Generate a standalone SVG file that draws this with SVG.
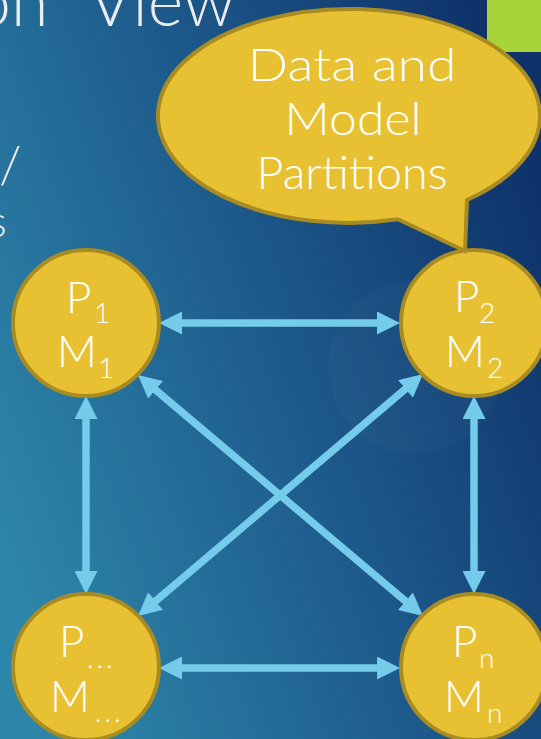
<svg xmlns="http://www.w3.org/2000/svg" width="541" height="739" viewBox="0 0 541 739">
  <defs>
    <linearGradient id="bg" x1="0" y1="0.75" x2="1" y2="0.25">
      <stop offset="0" stop-color="#2D86A9"/>
      <stop offset="0.5" stop-color="#1E5C8D"/>
      <stop offset="1" stop-color="#0E3269"/>
    </linearGradient>
    <marker id="ah" markerUnits="userSpaceOnUse" markerWidth="23" markerHeight="23" viewBox="0 0 23 23" refX="7" refY="11.5" orient="auto-start-reverse">
      <path d="M0,0 L23,11.5 L0,23 Z" fill="#74CCEA"/>
    </marker>
    <style>
      .node { fill: #E8C133; stroke: #A88B22; stroke-width: 4; }
      .lbl { font-family: "Lato", "DejaVu Sans", sans-serif; font-weight: 300; fill: #FFFFFF; font-size: 44px; }
      .sub { font-size: 28px; }
      .dots { font-size: 28px; letter-spacing: 3px; }
      .bigt { font-family: "Lato", "DejaVu Sans", sans-serif; font-weight: 300; fill: #ECECEC; }
      .bub { font-family: "Lato", "DejaVu Sans", sans-serif; font-weight: 300; fill: #FFFFFF; font-size: 45px; text-anchor: middle; }
      .conn { stroke: #74CCEA; stroke-width: 7.5; fill: none; marker-start: url(#ah); marker-end: url(#ah); }
    </style>
  </defs>

  <rect x="0" y="0" width="541" height="739" fill="url(#bg)"/>
  <circle cx="415" cy="367" r="87" fill="#FFFFFF" fill-opacity="0.025"/>
  <rect x="487" y="0" width="54" height="52" fill="#A9D33A"/>

  <g id="title-fragments">
    <text class="bigt" font-size="68" y="26"><tspan x="-27">on</tspan><tspan x="88">View</tspan></text>
    <text class="bigt" font-size="52" x="-1" y="183">/</text>
    <text class="bigt" font-size="44" x="-12" y="237">s</text>
  </g>

  <g id="connectors">
    <path class="conn" d="M175,323 L384,323"/>
    <path class="conn" d="M86,412 L86,578"/>
    <path class="conn" d="M474,412 L474,578"/>
    <path class="conn" d="M175,668 L384,668"/>
    <path class="conn" d="M150.2,385.3 L410.8,605.7"/>
    <path class="conn" d="M410.8,384.4 L150.2,605.6"/>
  </g>

  <g id="node-p1">
    <circle class="node" cx="86" cy="323" r="73"/>
    <text class="lbl"><tspan x="66" y="313">P</tspan><tspan class="sub" x="94" y="323">1</tspan></text>
    <text class="lbl"><tspan x="57" y="367">M</tspan><tspan class="sub" x="98" y="378">1</tspan></text>
  </g>

  <g id="node-p2">
    <circle class="node" cx="474" cy="323" r="73"/>
    <text class="lbl"><tspan x="454" y="312">P</tspan><tspan class="sub" x="479" y="323">2</tspan></text>
    <text class="lbl"><tspan x="445" y="367">M</tspan><tspan class="sub" x="487" y="378">2</tspan></text>
  </g>

  <g id="node-pdots">
    <circle class="node" cx="86" cy="667" r="73"/>
    <text class="lbl"><tspan x="59" y="657">P</tspan><tspan class="dots" x="87" y="668">...</tspan></text>
    <text class="lbl"><tspan x="50" y="712">M</tspan><tspan class="dots" x="95" y="722">...</tspan></text>
  </g>

  <g id="node-pn">
    <circle class="node" cx="474" cy="667" r="73"/>
    <text class="lbl"><tspan x="452" y="657">P</tspan><tspan class="sub" x="479" y="668">n</tspan></text>
    <text class="lbl"><tspan x="444" y="712">M</tspan><tspan class="sub" x="487" y="723">n</tspan></text>
  </g>

  <g id="callout">
    <path class="node" d="M467,200 A191 107 0 1 0 398,219.3 L465,251 Z"/>
    <text class="bub" x="352" y="81" textLength="209" lengthAdjust="spacingAndGlyphs">Data and</text>
    <text class="bub" x="353" y="135" textLength="137" lengthAdjust="spacingAndGlyphs">Model</text>
    <text class="bub" x="352" y="189" textLength="191" lengthAdjust="spacingAndGlyphs">Partitions</text>
  </g>
</svg>
